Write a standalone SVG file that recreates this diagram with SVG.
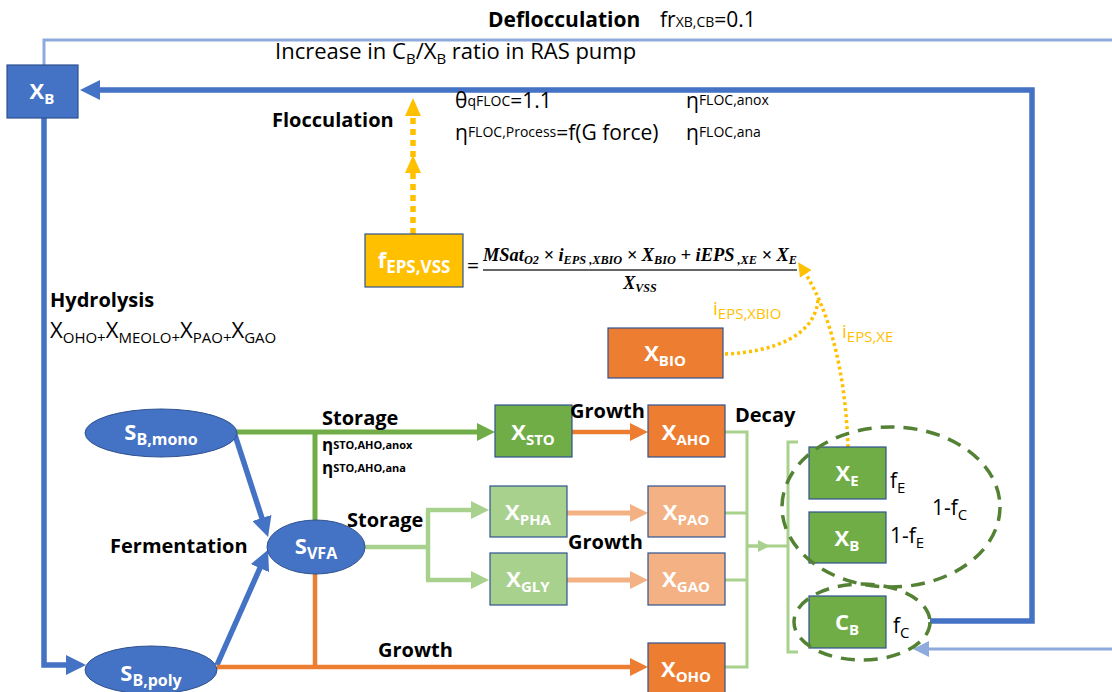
<svg xmlns="http://www.w3.org/2000/svg" width="1112" height="692" viewBox="0 0 1112 692">
<style>
text{font-family:"Open Sans","Liberation Sans",sans-serif;fill:#000}
.b{font-weight:bold;font-size:20px}
.r{font-size:21px}
.s{font-size:14px}
.w{fill:#fff;font-weight:bold;font-size:22px}
.y{fill:#ffc000;font-size:19px}
.box{stroke:#2f528f;stroke-width:1.2}
.db{fill:none;stroke:#4472c4;stroke-width:5.5}
.lb{fill:none;stroke:#8faadc;stroke-width:3}
.g{fill:none;stroke:#70ad47;stroke-width:5}
.lg{fill:none;stroke:#a9d18e;stroke-width:4.5}
.lgt{fill:none;stroke:#a9d18e;stroke-width:3}
.o{fill:none;stroke:#ed7d31;stroke-width:4.5}
.lo{fill:none;stroke:#f4b183;stroke-width:5}
.yd{fill:none;stroke:#ffc000;stroke-width:3.5;stroke-dasharray:3 3}
.yf{fill:none;stroke:#ffc000;stroke-width:5.5;stroke-dasharray:6 5}
.dash{fill:none;stroke:#548235;stroke-width:3.5;stroke-dasharray:14 9}
.f{font-family:"Liberation Serif",serif;font-weight:bold;font-style:italic;font-size:18px}
</style>
<defs>
<marker id="aDB" markerUnits="userSpaceOnUse" markerWidth="20" markerHeight="20" refX="10" refY="10" orient="auto"><path d="M0,0 L20,10 L0,20 z" fill="#4472c4"/></marker>
<marker id="aG" markerUnits="userSpaceOnUse" markerWidth="18" markerHeight="18" refX="9" refY="9" orient="auto"><path d="M0,0 L18,9 L0,18 z" fill="#70ad47"/></marker>
<marker id="aLG" markerUnits="userSpaceOnUse" markerWidth="18" markerHeight="18" refX="9" refY="9" orient="auto"><path d="M0,0 L18,9 L0,18 z" fill="#a9d18e"/></marker>
<marker id="aLGs" markerUnits="userSpaceOnUse" markerWidth="12" markerHeight="12" refX="6" refY="6" orient="auto"><path d="M0,0 L12,6 L0,12 z" fill="#a9d18e"/></marker>
<marker id="aO" markerUnits="userSpaceOnUse" markerWidth="18" markerHeight="18" refX="9" refY="9" orient="auto"><path d="M0,0 L18,9 L0,18 z" fill="#ed7d31"/></marker>
<marker id="aLO" markerUnits="userSpaceOnUse" markerWidth="18" markerHeight="18" refX="9" refY="9" orient="auto"><path d="M0,0 L18,9 L0,18 z" fill="#f4b183"/></marker>
<marker id="aLB" markerUnits="userSpaceOnUse" markerWidth="16" markerHeight="16" refX="8" refY="8" orient="auto"><path d="M0,0 L16,8 L0,16 z" fill="#8faadc"/></marker>
<marker id="aY" markerUnits="userSpaceOnUse" markerWidth="14" markerHeight="14" refX="7" refY="7" orient="auto"><path d="M0,0 L14,7 L0,14 z" fill="#ffc000"/></marker>
<marker id="aYF" markerUnits="userSpaceOnUse" markerWidth="18" markerHeight="16" refX="9" refY="8" orient="auto"><path d="M0,0 L18,8 L0,16 z" fill="#ffc000"/></marker>
</defs>
<rect width="1112" height="692" fill="#fff"/>

<g id="connectors">
<polyline class="lb" points="44,65 44,40 1112,40"/>
<line class="lb" x1="1112" y1="649" x2="921" y2="649" marker-end="url(#aLB)"/>
<polyline class="db" points="930,621 1032,621 1032,90 90,90" marker-end="url(#aDB)"/>
<polyline class="db" points="44,118 44,665 76,665" marker-end="url(#aDB)"/>
<line class="db" x1="234" y1="432" x2="265" y2="527.5" marker-end="url(#aDB)"/>
<line class="db" x1="217" y1="665" x2="264" y2="559" marker-end="url(#aDB)"/>
<line class="g" x1="234" y1="432" x2="486" y2="432" marker-end="url(#aG)"/>
<line class="g" x1="315" y1="432" x2="315" y2="521"/>
<path class="lg" d="M365,547 H428 M428,510 V580"/>
<line class="lg" x1="426" y1="510" x2="480" y2="510" marker-end="url(#aLG)"/>
<line class="lg" x1="426" y1="580" x2="480" y2="580" marker-end="url(#aLG)"/>
<line class="o" x1="315" y1="574" x2="315" y2="667"/>
<line class="o" x1="217" y1="667" x2="639" y2="667" marker-end="url(#aO)"/>
<line class="o" x1="572" y1="432" x2="639" y2="432" marker-end="url(#aO)"/>
<line class="lo" x1="567" y1="513" x2="639" y2="513" marker-end="url(#aLO)"/>
<line class="lo" x1="567" y1="580" x2="639" y2="580" marker-end="url(#aLO)"/>
<path class="lgt" d="M725,432 H747 M725,513 H747 M725,580 H747 M725,667 H747 M747,430.5 V668.5 M747,546 H788"/>
<line class="lgt" x1="747" y1="546" x2="764" y2="546" marker-end="url(#aLGs)"/>
<polyline class="lgt" points="798,442 788,442 788,652 798,652"/>
<path class="yf" d="M413,234 L413,164 L413,107" marker-mid="url(#aYF)" marker-end="url(#aYF)"/>
<path class="yd" d="M725,354 C775,352 815,335 818,300"/>
<path class="yd" d="M848,447 C846,390 836,320 802,268" marker-end="url(#aY)"/>
</g>

<g id="XB_top"><rect class="box" x="7" y="65" width="71" height="53" fill="#4472c4"/><text class="w" x="42" y="99" text-anchor="middle">X<tspan dy="5" font-size="15">B</tspan></text></g>

<g id="SBmono"><ellipse cx="161" cy="433" rx="76" ry="24" fill="#4472c4" stroke="#2f528f"/><text class="w" x="161" y="440" text-anchor="middle">S<tspan dy="5" font-size="16">B,mono</tspan></text></g>
<g id="SVFA"><ellipse cx="316" cy="547" rx="49" ry="27" fill="#4472c4" stroke="#2f528f"/><text class="w" x="316" y="554" text-anchor="middle">S<tspan dy="5" font-size="16">VFA</tspan></text></g>
<g id="SBpoly"><ellipse cx="151" cy="670" rx="66" ry="24" fill="#4472c4" stroke="#2f528f"/><text class="w" x="151" y="681" text-anchor="middle">S<tspan dy="5" font-size="16">B,poly</tspan></text></g>

<g id="XSTO"><rect class="box" x="495" y="405" width="77" height="52" fill="#70ad47"/><text class="w" x="533" y="440" text-anchor="middle">X<tspan dy="5" font-size="15">STO</tspan></text></g>
<g id="XAHO"><rect class="box" x="648" y="405" width="77" height="52" fill="#ed7d31"/><text class="w" x="686" y="440" text-anchor="middle">X<tspan dy="5" font-size="15">AHO</tspan></text></g>
<g id="XPHA"><rect class="box" x="490" y="486" width="77" height="51" fill="#a9d18e"/><text class="w" x="528" y="520" text-anchor="middle">X<tspan dy="5" font-size="15">PHA</tspan></text></g>
<g id="XPAO"><rect class="box" x="648" y="486" width="77" height="51" fill="#f4b183"/><text class="w" x="686" y="520" text-anchor="middle">X<tspan dy="5" font-size="15">PAO</tspan></text></g>
<g id="XGLY"><rect class="box" x="490" y="553" width="77" height="52" fill="#a9d18e"/><text class="w" x="528" y="587" text-anchor="middle">X<tspan dy="5" font-size="15">GLY</tspan></text></g>
<g id="XGAO"><rect class="box" x="648" y="553" width="77" height="52" fill="#f4b183"/><text class="w" x="686" y="587" text-anchor="middle">X<tspan dy="5" font-size="15">GAO</tspan></text></g>
<g id="XOHO"><rect class="box" x="648" y="643" width="77" height="52" fill="#ed7d31"/><text class="w" x="686" y="677" text-anchor="middle">X<tspan dy="5" font-size="15">OHO</tspan></text></g>

<g id="XE"><rect class="box" x="809" y="447" width="77" height="52" fill="#70ad47"/><text class="w" x="847" y="481" text-anchor="middle">X<tspan dy="5" font-size="15">E</tspan></text></g>
<g id="XB"><rect class="box" x="809" y="512" width="77" height="51" fill="#70ad47"/><text class="w" x="847" y="546" text-anchor="middle">X<tspan dy="5" font-size="15">B</tspan></text></g>
<g id="CB"><rect class="box" x="809" y="596" width="77" height="52" fill="#70ad47"/><text class="w" x="847" y="630" text-anchor="middle">C<tspan dy="5" font-size="15">B</tspan></text></g>
<g id="groups"><ellipse class="dash" cx="891" cy="507" rx="109" ry="80"/><ellipse class="dash" cx="862" cy="622" rx="68" ry="38"/></g>

<g id="XBIO"><rect class="box" x="608" y="328" width="115" height="50" fill="#ed7d31"/><text class="w" x="665" y="361" text-anchor="middle">X<tspan dy="5" font-size="15">BIO</tspan></text></g>
<g id="fEPS"><rect class="box" x="365" y="234" width="98" height="53" fill="#ffc000"/><text class="w" x="414" y="268" text-anchor="middle">f<tspan dy="5" font-size="17">EPS,VSS</tspan></text></g>

<g id="formula">
<text x="467" y="273" font-family="Liberation Serif,serif" font-size="21">=</text>
<text class="f" x="483" y="261" textLength="314" lengthAdjust="spacingAndGlyphs">MSat<tspan dy="3" font-size="12">O2</tspan><tspan dy="-3"> × i</tspan><tspan dy="3" font-size="12">EPS ,XBIO</tspan><tspan dy="-3"> × X</tspan><tspan dy="3" font-size="12">BIO</tspan><tspan dy="-3"> + iEPS</tspan><tspan dy="3" font-size="12"> ,XE</tspan><tspan dy="-3"> × X</tspan><tspan dy="3" font-size="12">E</tspan></text>
<line x1="483" y1="270" x2="797" y2="270" stroke="#333" stroke-width="1.3"/>
<text class="f" x="640" y="289" text-anchor="middle">X<tspan dy="3" font-size="12">VSS</tspan></text>
</g>

<g id="labels">
<text class="b" x="488" y="27" style="font-size:21px">Deflocculation</text>
<text class="r" x="660" y="27">fr<tspan class="s">XB,CB</tspan>=0.1</text>
<text x="275" y="59" font-size="22">Increase in C<tspan dy="5" font-size="15">B</tspan><tspan dy="-5">/X</tspan><tspan dy="5" font-size="15">B</tspan><tspan dy="-5"> ratio in RAS pump</tspan></text>
<text class="b" x="272" y="127">Flocculation</text>
<text class="r" x="455" y="108">θ<tspan class="s" dy="-2">qFLOC</tspan><tspan dy="2">=1.1</tspan></text>
<text class="r" x="455" y="140">η<tspan class="s" dy="-3">FLOC,Process</tspan><tspan dy="3">=f(G force)</tspan></text>
<text class="r" x="686" y="108">η<tspan class="s" dy="-3">FLOC,anox</tspan></text>
<text class="r" x="686" y="140">η<tspan class="s" dy="-3">FLOC,ana</tspan></text>
<text class="b" x="50" y="307">Hydrolysis</text>
<text x="50" y="338" font-size="22">X<tspan dy="5" font-size="15">OHO+</tspan><tspan dy="-5">X</tspan><tspan dy="5" font-size="15">MEOLO+</tspan><tspan dy="-5">X</tspan><tspan dy="5" font-size="15">PAO+</tspan><tspan dy="-5">X</tspan><tspan dy="5" font-size="15">GAO</tspan></text>
<text class="b" x="322" y="425">Storage</text>
<text x="322" y="451" font-size="17" font-weight="bold">η<tspan font-size="11" dy="-2">STO,AHO,anox</tspan></text>
<text x="322" y="474" font-size="17" font-weight="bold">η<tspan font-size="11" dy="-2">STO,AHO,ana</tspan></text>
<text class="b" x="347" y="527" fill="#333">Storage</text>
<text class="b" x="110" y="553">Fermentation</text>
<text class="b" x="378" y="657">Growth</text>
<text class="b" x="570" y="418">Growth</text>
<text class="b" x="568" y="549" fill="#333">Growth</text>
<text class="b" x="735" y="422">Decay</text>
<text class="y" x="713" y="315">i<tspan dy="4" font-size="15">EPS,XBIO</tspan></text>
<text class="y" x="842" y="338">i<tspan dy="4" font-size="15">EPS,XE</tspan></text>
<text x="890" y="488" font-size="21">f<tspan dy="5" font-size="15">E</tspan></text>
<text x="932" y="515" font-size="21">1-f<tspan dy="5" font-size="15">C</tspan></text>
<text x="890" y="543" font-size="21">1-f<tspan dy="5" font-size="15">E</tspan></text>
<text x="893" y="633" font-size="21">f<tspan dy="5" font-size="15">C</tspan></text>
</g>
</svg>
